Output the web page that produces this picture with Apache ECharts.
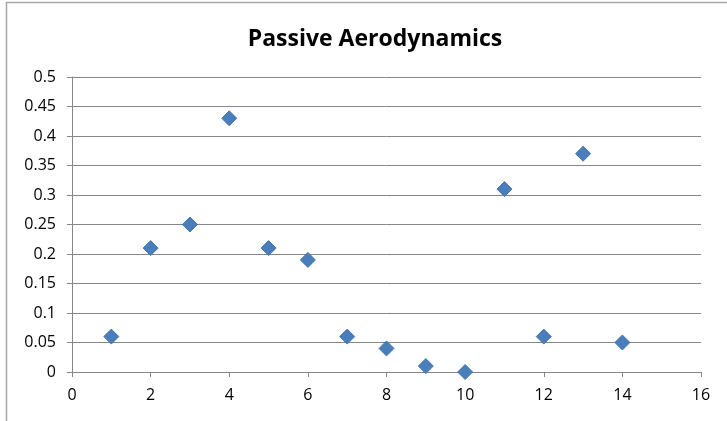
<!DOCTYPE html>
<html>
<head>
<meta charset="utf-8"/>
<title>Passive Aerodynamics</title>
<script src="https://cdn.jsdelivr.net/npm/echarts@6/dist/echarts.min.js"></script>
<style>
  html, body { margin: 0; padding: 0; background: #fff; }
  #chart { width: 727px; height: 421px; }
</style>
</head>
<body>
<div id="chart"></div>
<script>
// data
var xValues = [1, 2, 3, 4, 5, 6, 7, 8, 9, 10, 11, 12, 13, 14];
var yValues = [0.06, 0.21, 0.25, 0.43, 0.21, 0.19, 0.06, 0.04, 0.01, 0, 0.31, 0.06, 0.37, 0.05];

var points = [];
for (var i = 0; i < xValues.length; i++) {
    points.push([xValues[i], yValues[i]]);
}

var myChart = echarts.init(document.getElementById('chart'));
var axisFont = { fontFamily: 'Open Sans', fontSize: 16, color: '#000' };
var option = {
    animation: false,
    title: {
        text: 'Passive Aerodynamics',
        left: 370,
        top: 23,
        textAlign: 'center',
        textStyle: { fontFamily: 'Open Sans', fontWeight: 'bold', fontSize: 23, color: '#000' }
    },
    graphic: [{
        type: 'rect',
        shape: { x: 6.5, y: 2.5, width: 800, height: 800 },
        style: { fill: 'none', stroke: '#a6a6a6', lineWidth: 1.5 },
        silent: true
    }],
    grid: { left: 72, right: 26, top: 77, bottom: 49, containLabel: false },
    xAxis: {
        type: 'value',
        min: 0, max: 16, interval: 2,
        axisLine: { show: true, lineStyle: { color: '#868686' } },
        axisTick: { show: true, length: 5, lineStyle: { color: '#868686' } },
        splitLine: { show: false },
        axisLabel: Object.assign({ margin: 15 }, axisFont)
    },
    yAxis: {
        type: 'value',
        min: 0, max: 0.5, interval: 0.05,
        axisLine: { show: true, lineStyle: { color: '#868686' } },
        axisTick: { show: true, length: 5, lineStyle: { color: '#868686' } },
        splitLine: { show: true, lineStyle: { color: '#868686' } },
        axisLabel: Object.assign({ margin: 16, formatter: function (v) { return +v.toFixed(2) + ''; } }, axisFont)
    },
    series: [{
        type: 'scatter',
        symbol: 'diamond',
        symbolSize: 15,
        itemStyle: { color: '#4a7ebb', borderColor: '#4474b0', borderWidth: 1, opacity: 1 },
        data: points
    }]
};
myChart.setOption(option);
</script>
</body>
</html>
